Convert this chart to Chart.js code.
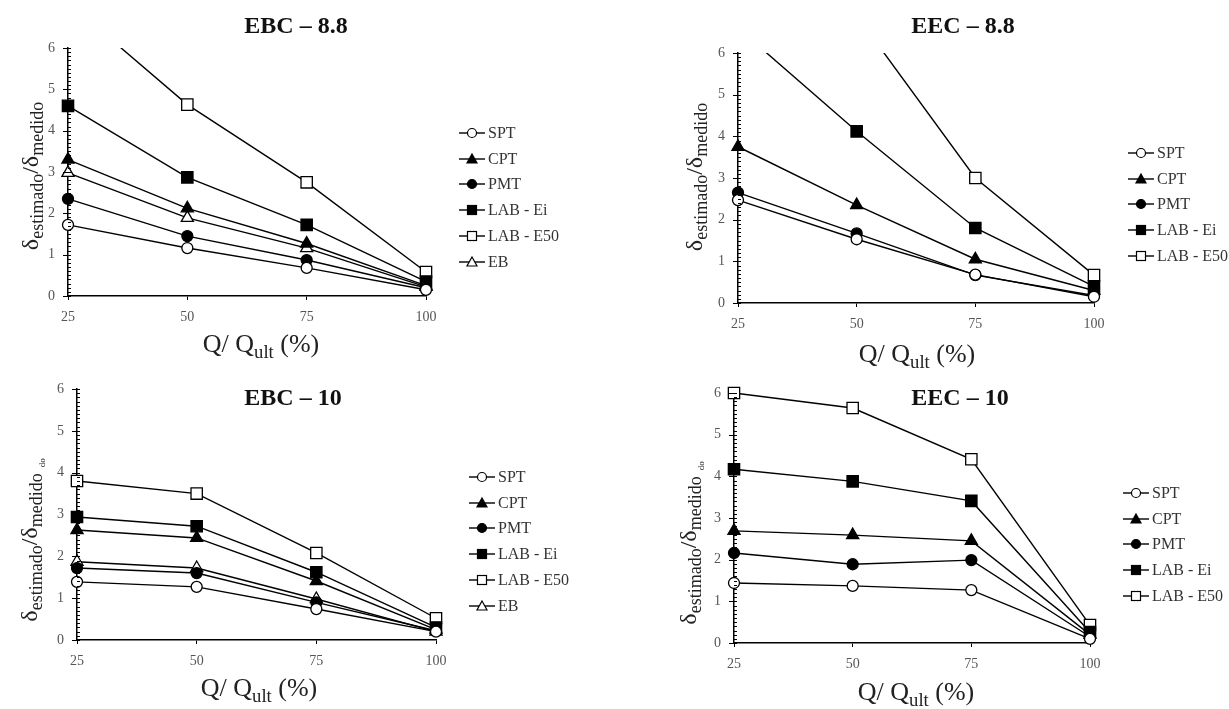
<!DOCTYPE html>
<html>
<head>
<meta charset="utf-8">
<script src="https://cdn.jsdelivr.net/npm/chart.js@4.4.0/dist/chart.umd.min.js"></script>
<style>
body { margin:0; background:#fff; width:1229px; height:709px; position:relative; overflow:hidden; font-family:"Liberation Serif","Times New Roman",serif; }
canvas { position:absolute; }
.title { position:absolute; font-weight:bold; font-size:24px; color:#111; transform:translate(-50%,-50%); white-space:nowrap; }
.ytitle { position:absolute; font-size:24px; color:#222; transform:translate(-50%,-50%) rotate(-90deg); white-space:nowrap; line-height:1; }
.xtitle { position:absolute; font-size:26px; color:#222; transform:translate(-50%,-50%); white-space:nowrap; line-height:1; }
sub { font-size:0.75em; vertical-align:-0.3em; line-height:0; }
.xtitle sub { font-size:0.72em; }
.ghost { font-size:9px; vertical-align:-0.9em; margin-left:6px; }
.legend { position:absolute; font-size:16px; color:#333; }
.legend .row { height:25.8px; display:flex; align-items:center; white-space:nowrap; }
.legend svg { margin-right:2px; }
</style>
</head>
<body>
<canvas id="c1" width="614" height="355" style="left:0;top:0"></canvas>
<canvas id="c2" width="615" height="355" style="left:614px;top:0"></canvas>
<canvas id="c3" width="614" height="354" style="left:0;top:355px"></canvas>
<canvas id="c4" width="615" height="354" style="left:614px;top:355px"></canvas>

<div class="title" style="left:296px;top:25px">EBC – 8.8</div>
<div class="title" style="left:963px;top:25px">EEC – 8.8</div>
<div class="title" style="left:293px;top:397px">EBC – 10</div>
<div class="title" style="left:960px;top:397px">EEC – 10</div>

<div class="ytitle" style="left:30px;top:176px">δ<sub>estimado</sub>/δ<sub>medido</sub></div>
<div class="ytitle" style="left:694px;top:177px">δ<sub>estimado</sub>/δ<sub>medido</sub></div>
<div class="ytitle" style="left:32px;top:540px">δ<sub>estimado</sub>/δ<sub>medido</sub><span class="ghost">do</span></div>
<div class="ytitle" style="left:691px;top:543px">δ<sub>estimado</sub>/δ<sub>medido</sub><span class="ghost">do</span></div>

<div class="xtitle" style="left:261px;top:344px">Q/ Q<sub>ult</sub> (%)</div>
<div class="xtitle" style="left:917px;top:354px">Q/ Q<sub>ult</sub> (%)</div>
<div class="xtitle" style="left:259px;top:688px">Q/ Q<sub>ult</sub> (%)</div>
<div class="xtitle" style="left:916px;top:692px">Q/ Q<sub>ult</sub> (%)</div>

<div class="legend" id="lg1" style="left:458px;top:120px"></div>
<div class="legend" id="lg2" style="left:1127px;top:140px"></div>
<div class="legend" id="lg3" style="left:468px;top:464px"></div>
<div class="legend" id="lg4" style="left:1122px;top:480px"></div>

<script>
// load level, % of ultimate
const loadLevels = [25, 50, 75, 100];
const methodNames = ['SPT', 'CPT', 'PMT', 'LAB - Ei', 'LAB - E50', 'EB'];
const yTicks = [0, 1, 2, 3, 4, 5, 6];

// EBC - 8.8
const ebc88Spt = [1.72, 1.16, 0.68, 0.15];
const ebc88Cpt = [3.30, 2.12, 1.27, 0.25];
const ebc88Pmt = [2.35, 1.45, 0.87, 0.20];
const ebc88LabEi = [4.60, 2.87, 1.72, 0.35];
const ebc88LabE50 = [7.10, 4.63, 2.75, 0.58];
const ebc88Eb = [2.98, 1.89, 1.16, 0.22];

// EEC - 8.8
const eec88Spt = [2.47, 1.53, 0.68, 0.15];
const eec88Cpt = [3.75, 2.35, 1.05, 0.30];
const eec88Pmt = [2.65, 1.67, 0.67, 0.18];
const eec88LabEi = [6.60, 4.12, 1.80, 0.40];
const eec88LabE50 = [9.80, 6.90, 3.00, 0.67];

// EBC - 10
const ebc10Spt = [1.39, 1.27, 0.74, 0.20];
const ebc10Cpt = [2.63, 2.44, 1.41, 0.25];
const ebc10Pmt = [1.72, 1.60, 0.90, 0.22];
const ebc10LabEi = [2.94, 2.72, 1.62, 0.30];
const ebc10LabE50 = [3.80, 3.50, 2.08, 0.52];
const ebc10Eb = [1.87, 1.72, 0.98, 0.20];

// EEC - 10
const eec10Spt = [1.44, 1.37, 1.27, 0.10];
const eec10Cpt = [2.69, 2.59, 2.45, 0.20];
const eec10Pmt = [2.16, 1.89, 1.99, 0.15];
const eec10LabEi = [4.17, 3.88, 3.41, 0.26];
const eec10LabE50 = [6.00, 5.64, 4.41, 0.43];

// marker look for each method
const markerStyles = {
    'SPT':       { shape: 'circle',   fill: '#fff', radius: 5.5 },
    'CPT':       { shape: 'triangle', fill: '#000', radius: 7 },
    'PMT':       { shape: 'circle',   fill: '#000', radius: 5.5 },
    'LAB - Ei':  { shape: 'rect',     fill: '#000', radius: 8 },
    'LAB - E50': { shape: 'rect',     fill: '#fff', radius: 8 },
    'EB':        { shape: 'triangle', fill: '#fff', radius: 7 }
};

Chart.defaults.font.family = '"Liberation Serif", "Times New Roman", serif';

// y axis ticks every 0.1, crossing the axis line like the excel original
const crossTicks = {
    id: 'crossTicks',
    afterDraw(chart) {
        const ctx = chart.ctx;
        const yScale = chart.scales.y;
        const left = chart.chartArea.left;
        ctx.save();
        ctx.strokeStyle = '#000';
        ctx.lineWidth = 1;
        for (let i = 0; i <= 60; i++) {
            const py = Math.round(yScale.getPixelForValue(i / 10)) + 0.5;
            const major = i % 10 === 0;
            ctx.beginPath();
            ctx.moveTo(left - (major ? 5 : 0), py);
            ctx.lineTo(left + 3, py);
            ctx.stroke();
        }
        ctx.restore();
    }
};

function buildDatasets(names, values) {
    return names.map((name, i) => {
        const m = markerStyles[name];
        return {
            label: name,
            data: values[i],
            borderColor: '#000',
            borderWidth: 1.4,
            pointStyle: m.shape,
            pointRadius: m.radius,
            pointBackgroundColor: m.fill,
            pointBorderColor: '#000',
            pointBorderWidth: 1.3,
            tension: 0
        };
    });
}

// area = [left, top, right, bottom] of the plot inside the canvas
function makePanel(id, names, values, area, clipTop) {
    const canvas = document.getElementById(id);
    const yW = 40, xH = 30;
    const datasets = buildDatasets(names, values);
    datasets.forEach(d => d.clip = { left: 10, right: 10, top: clipTop, bottom: 10 });
    return new Chart(canvas, {
        type: 'line',
        data: { labels: loadLevels, datasets: datasets },
        options: {
            responsive: false,
            animation: false,
            devicePixelRatio: 1,
            layout: {
                padding: {
                    left: area[0] - yW,
                    top: area[1],
                    right: canvas.width - area[2],
                    bottom: canvas.height - area[3] - xH
                }
            },
            plugins: { legend: { display: false }, tooltip: { enabled: false } },
            scales: {
                x: {
                    type: 'linear',
                    min: 25, max: 100,
                    afterFit(s) { s.height = xH; },
                    afterBuildTicks(s) { s.ticks = loadLevels.map(v => ({ value: v })); },
                    border: { color: '#000', width: 1.5 },
                    grid: { drawOnChartArea: false, tickLength: 4, tickColor: '#000' },
                    ticks: { color: '#555', font: { size: 14 }, padding: 9 }
                },
                y: {
                    min: 0, max: 6,
                    afterFit(s) { s.width = yW; },
                    afterBuildTicks(s) { s.ticks = yTicks.map(v => ({ value: v })); },
                    border: { color: '#000', width: 1.5 },
                    grid: { drawOnChartArea: false, drawTicks: false },
                    ticks: { color: '#555', font: { size: 14 }, padding: 13 }
                }
            }
        },
        plugins: [crossTicks]
    });
}

function drawIcon(name) {
    const m = markerStyles[name];
    const fill = m.fill;
    let mark = '';
    if (m.shape === 'circle') mark = `<circle cx="14" cy="7" r="4.5" fill="${fill}" stroke="#000" stroke-width="1.2"/>`;
    if (m.shape === 'rect') mark = `<rect x="9.5" y="2.5" width="9" height="9" fill="${fill}" stroke="#000" stroke-width="1.2"/>`;
    if (m.shape === 'triangle') mark = `<polygon points="14,2 19,11 9,11" fill="${fill}" stroke="#000" stroke-width="1.2"/>`;
    return `<svg width="28" height="14"><line x1="1" y1="7" x2="27" y2="7" stroke="#000" stroke-width="1.4"/>${mark}</svg>`;
}

function makeLegend(id, names) {
    const box = document.getElementById(id);
    box.innerHTML = names.map(n => `<div class="row">${drawIcon(n)}<span>${n}</span></div>`).join('');
}

const six = methodNames;
const five = methodNames.slice(0, 5);

makePanel('c1', six, [ebc88Spt, ebc88Cpt, ebc88Pmt, ebc88LabEi, ebc88LabE50, ebc88Eb], [68, 48, 426, 296], 0);
makePanel('c2', five, [eec88Spt, eec88Cpt, eec88Pmt, eec88LabEi, eec88LabE50], [124, 53, 480, 303], 0);
makePanel('c3', six, [ebc10Spt, ebc10Cpt, ebc10Pmt, ebc10LabEi, ebc10LabE50, ebc10Eb], [77, 34, 436, 285], 10);
makePanel('c4', five, [eec10Spt, eec10Cpt, eec10Pmt, eec10LabEi, eec10LabE50], [120, 38, 476, 288], 10);

makeLegend('lg1', six);
makeLegend('lg2', five);
makeLegend('lg3', six);
makeLegend('lg4', five);
</script>
</body>
</html>
